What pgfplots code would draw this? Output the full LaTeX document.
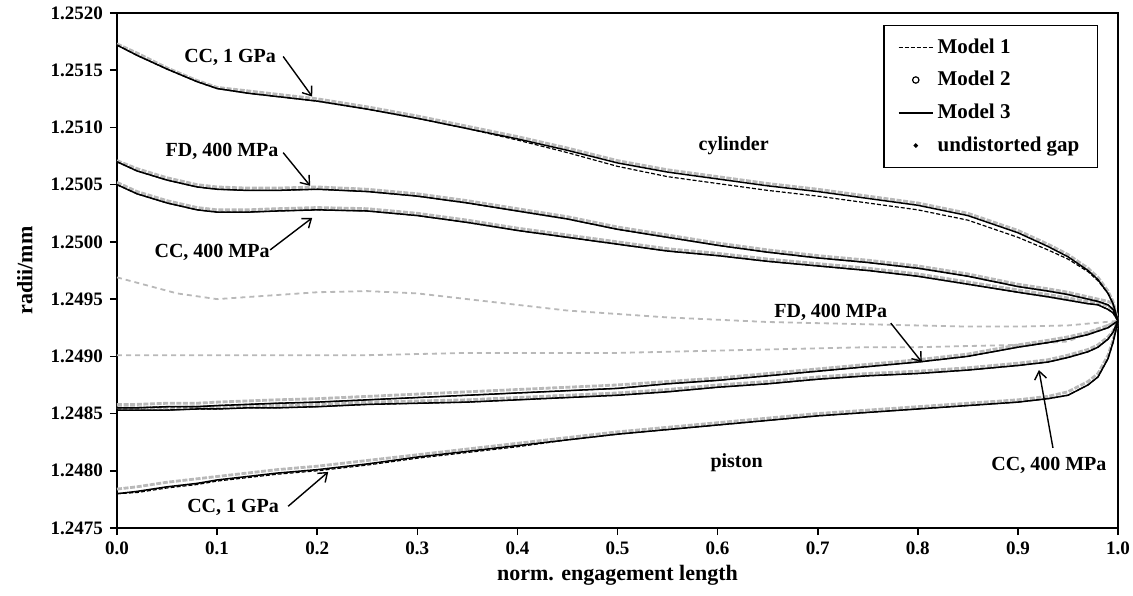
\documentclass[border=0pt]{standalone}
\usepackage{fontspec}
\setmainfont{Liberation Serif}
\usepackage{pgfplots}
\usepackage{pgfplotstable}
\pgfplotsset{compat=1.18}
\usetikzlibrary{arrows.meta,calc}

% curves: A = CC 1 GPa cyl, B = FD 400 MPa cyl, C = CC 400 MPa cyl,
%         D = FD 400 MPa piston, E = CC 400 MPa piston, F = CC 1 GPa piston
% Model 3 (solid)
\pgfplotstableread{
x     A       B       C       D       E       F
0.00  1.25172 1.25070 1.25050 1.24855 1.24853 1.24780
0.02  1.25163 1.25062 1.25042 1.24855 1.24853 1.24782
0.05  1.25151 1.25054 1.25034 1.24856 1.24853 1.24786
0.08  1.25140 1.25048 1.25028 1.24856 1.24854 1.24789
0.10  1.25134 1.25046 1.25026 1.24857 1.24854 1.24792
0.13  1.25130 1.25045 1.25026 1.24858 1.24855 1.24795
0.16  1.25127 1.25045 1.25027 1.24859 1.24855 1.24798
0.20  1.25123 1.25046 1.25028 1.24860 1.24856 1.24801
0.25  1.25116 1.25044 1.25027 1.24862 1.24858 1.24806
0.30  1.25108 1.25040 1.25023 1.24864 1.24859 1.24812
0.35  1.25099 1.25034 1.25017 1.24866 1.24860 1.24817
0.40  1.25090 1.25027 1.25010 1.24868 1.24862 1.24822
0.45  1.25080 1.25020 1.25004 1.24870 1.24864 1.24827
0.50  1.25069 1.25011 1.24998 1.24872 1.24866 1.24832
0.55  1.25061 1.25004 1.24992 1.24876 1.24869 1.24836
0.60  1.25055 1.24997 1.24988 1.24879 1.24873 1.24840
0.65  1.25049 1.24991 1.24983 1.24883 1.24876 1.24844
0.70  1.25044 1.24986 1.24979 1.24887 1.24880 1.24848
0.75  1.25038 1.24982 1.24975 1.24891 1.24883 1.24851
0.80  1.25032 1.24977 1.24970 1.24895 1.24885 1.24854
0.85  1.25023 1.24970 1.24963 1.24900 1.24888 1.24857
0.90  1.25008 1.24961 1.24956 1.24908 1.24892 1.24860
0.93  1.24996 1.24957 1.24952 1.24912 1.24895 1.24863
0.95  1.24987 1.24954 1.24949 1.24915 1.24899 1.24866
0.97  1.24975 1.24950 1.24946 1.24919 1.24904 1.24875
0.98  1.24967 1.24948 1.24945 1.24922 1.24908 1.24882
0.99  1.24955 1.24945 1.24941 1.24925 1.24915 1.24898
0.995 1.24946 1.24941 1.24938 1.24928 1.24921 1.24912
1.00  1.24931 1.24931 1.24931 1.24931 1.24931 1.24931
}\modelthree

% Model 1 (dashed)
\pgfplotstableread{
x     A       B       C       D       E       F
0.00  1.25172 1.25070 1.25050 1.24855 1.24853 1.24780
0.02  1.25163 1.25062 1.25042 1.24855 1.24853 1.24781
0.05  1.25151 1.25054 1.25034 1.24856 1.24853 1.24785
0.08  1.25140 1.25048 1.25028 1.24856 1.24854 1.24788
0.10  1.25134 1.25046 1.25026 1.24857 1.24854 1.24791
0.13  1.25130 1.25045 1.25026 1.24858 1.24855 1.24794
0.16  1.25127 1.25045 1.25027 1.24859 1.24855 1.24797
0.20  1.25123 1.25046 1.25028 1.24860 1.24856 1.24800
0.25  1.25116 1.25044 1.25027 1.24862 1.24858 1.24805
0.30  1.25108 1.25040 1.25023 1.24864 1.24859 1.24811
0.35  1.25099 1.25034 1.25017 1.24866 1.24860 1.24816
0.40  1.25089 1.25027 1.25010 1.24868 1.24862 1.24821
0.45  1.25078 1.25020 1.25004 1.24870 1.24864 1.24827
0.50  1.25066 1.25011 1.24998 1.24872 1.24866 1.24832
0.55  1.25057 1.25004 1.24992 1.24876 1.24869 1.24836
0.60  1.25051 1.24997 1.24988 1.24879 1.24873 1.24840
0.65  1.25045 1.24991 1.24983 1.24883 1.24876 1.24844
0.70  1.25040 1.24986 1.24979 1.24887 1.24880 1.24848
0.75  1.25034 1.24982 1.24975 1.24891 1.24883 1.24851
0.80  1.25028 1.24977 1.24970 1.24895 1.24885 1.24854
0.85  1.25019 1.24970 1.24963 1.24900 1.24888 1.24857
0.90  1.25004 1.24961 1.24956 1.24908 1.24892 1.24860
0.93  1.24993 1.24957 1.24952 1.24912 1.24895 1.24863
0.95  1.24985 1.24954 1.24949 1.24915 1.24899 1.24866
0.97  1.24974 1.24950 1.24946 1.24919 1.24904 1.24875
0.98  1.24966 1.24948 1.24945 1.24922 1.24908 1.24882
0.99  1.24955 1.24945 1.24941 1.24925 1.24915 1.24898
0.995 1.24946 1.24941 1.24938 1.24928 1.24921 1.24912
1.00  1.24931 1.24931 1.24931 1.24931 1.24931 1.24931
}\modelone

% Model 2 (grey markers)
\pgfplotstableread{
x     A       B       C       D       E       F
0.00  1.25173 1.25071 1.25052 1.24858 1.24855 1.24784
0.02  1.25165 1.25064 1.25044 1.24858 1.24855 1.24786
0.05  1.25152 1.25056 1.25036 1.24859 1.24855 1.24790
0.08  1.25141 1.25050 1.25030 1.24859 1.24856 1.24793
0.10  1.25135 1.25048 1.25028 1.24860 1.24856 1.24795
0.13  1.25132 1.25047 1.25028 1.24861 1.24857 1.24798
0.16  1.25129 1.25047 1.25029 1.24862 1.24857 1.24801
0.20  1.25125 1.25048 1.25030 1.24863 1.24858 1.24804
0.25  1.25118 1.25046 1.25029 1.24865 1.24860 1.24809
0.30  1.25110 1.25042 1.25025 1.24867 1.24861 1.24814
0.35  1.25101 1.25036 1.25019 1.24869 1.24862 1.24819
0.40  1.25092 1.25029 1.25012 1.24871 1.24864 1.24824
0.45  1.25082 1.25022 1.25006 1.24873 1.24866 1.24829
0.50  1.25071 1.25013 1.25000 1.24875 1.24868 1.24834
0.55  1.25063 1.25006 1.24994 1.24878 1.24871 1.24838
0.60  1.25057 1.24999 1.24990 1.24881 1.24875 1.24842
0.65  1.25051 1.24993 1.24985 1.24885 1.24878 1.24846
0.70  1.25046 1.24988 1.24981 1.24889 1.24882 1.24850
0.75  1.25040 1.24984 1.24977 1.24893 1.24885 1.24853
0.80  1.25034 1.24979 1.24972 1.24897 1.24887 1.24856
0.85  1.25025 1.24972 1.24965 1.24902 1.24890 1.24859
0.90  1.25010 1.24963 1.24958 1.24910 1.24894 1.24862
0.93  1.24998 1.24959 1.24954 1.24914 1.24897 1.24865
0.95  1.24989 1.24956 1.24951 1.24917 1.24901 1.24869
0.97  1.24977 1.24952 1.24948 1.24921 1.24906 1.24878
0.98  1.24969 1.24950 1.24947 1.24924 1.24910 1.24885
0.99  1.24957 1.24948 1.24944 1.24927 1.24917 1.24901
0.995 1.24948 1.24946 1.24941 1.24929 1.24922 1.24914
1.00  1.24931 1.24931 1.24931 1.24931 1.24931 1.24931
}\modeltwo

% undistorted gap: G = cylinder bore, H = piston
\pgfplotstableread{
x     G       H
0.00  1.24969 1.24901
0.03  1.24962 1.24901
0.06  1.24955 1.24901
0.10  1.24950 1.24901
0.15  1.24953 1.24901
0.20  1.24956 1.24901
0.25  1.24957 1.24901
0.30  1.24955 1.24902
0.35  1.24950 1.24903
0.40  1.24945 1.24903
0.45  1.24940 1.24903
0.50  1.24937 1.24903
0.55  1.24934 1.24904
0.60  1.24932 1.24905
0.65  1.24930 1.24906
0.70  1.24929 1.24907
0.75  1.24928 1.24908
0.80  1.24927 1.24908
0.85  1.24926 1.24909
0.90  1.24926 1.24910
0.95  1.24927 1.24913
1.00  1.24931 1.24931
}\undist

\tikzset{
  m1/.style={black, line width=0.6pt, dash pattern=on 2pt off 1pt},
  m2/.style={gray!55, line width=1.4pt, dash pattern=on 2.5pt off 0.8pt},
  m3/.style={black, line width=0.75pt},
  ug/.style={gray!55, line width=0.9pt, dash pattern=on 2.5pt off 2pt},
  lbl/.style={font=\fontsize{10}{12}\selectfont\bfseries},
  arr/.style={-{Straight Barb[length=4pt,width=6pt]}, line width=0.7pt},
}

\begin{document}
\begin{tikzpicture}
\begin{axis}[
    scale only axis,
    width=500.5pt, height=257.5pt,
    xmin=0, xmax=1,
    ymin=1.2475, ymax=1.2520,
    xtick={0,0.1,0.2,0.3,0.4,0.5,0.6,0.7,0.8,0.9,1.0},
    ytick={1.2475,1.2480,1.2485,1.2490,1.2495,1.2500,1.2505,1.2510,1.2515,1.2520},
    scaled x ticks=false, scaled y ticks=false,
    tick align=outside, tick pos=left,
    major tick length=3.5pt,
    axis line style={line width=0.8pt},
    every tick/.style={black, line width=0.8pt},
    /pgf/number format/assume math mode=true,
    xticklabel style={/pgf/number format/fixed, /pgf/number format/fixed zerofill, /pgf/number format/precision=1},
    yticklabel style={/pgf/number format/fixed, /pgf/number format/fixed zerofill, /pgf/number format/precision=4},
    ticklabel style={font=\fontsize{9.5}{11}\selectfont\bfseries},
    xlabel={norm. engagement length},
    ylabel={radii/mm},
    every axis x label/.style={at={(axis description cs:0.5,-0.0913)}, anchor=center,
        font=\fontsize{11}{13}\selectfont\bfseries},
    every axis y label/.style={at={(axis description cs:-0.092,0.5)}, rotate=90, anchor=center,
        font=\fontsize{11}{13}\selectfont\bfseries},
    legend style={at={(0.980,0.977)}, anchor=north east, draw=black, line width=0.6pt,
        font=\fontsize{10.5}{12}\selectfont\bfseries, row sep=3.6pt,
        inner xsep=7pt, inner ysep=4.5pt},
    legend cell align=left,
]
% undistorted gap
\addplot[ug, forget plot] table[x=x, y=G] {\undist};
\addplot[ug, forget plot] table[x=x, y=H] {\undist};
% Model 2
\foreach \c in {A,B,C,D,E,F}{
  \addplot[m2, forget plot] table[x=x, y=\c] {\modeltwo};
}
% Model 1
\foreach \c in {A,B,C,D,E,F}{
  \addplot[m1, forget plot] table[x=x, y=\c] {\modelone};
}
% Model 3
\foreach \c in {A,B,C,D,E,F}{
  \addplot[m3, forget plot] table[x=x, y=\c] {\modelthree};
}

\addlegendimage{m1}
\addlegendentry{Model 1}
\addlegendimage{only marks, mark=o, mark size=1.6pt, black, mark options={solid, line width=0.6pt}}
\addlegendentry{Model 2}
\addlegendimage{m3}
\addlegendentry{Model 3}
\addlegendimage{only marks, mark=*, mark size=0.8pt, black}
\addlegendentry{undistorted gap}

% annotations
\node[lbl] at (axis cs:0.113,1.25161) {CC, 1 GPa};
\draw[arr] (axis cs:0.166,1.25162) -- (axis cs:0.195,1.25127);
\node[lbl] at (axis cs:0.105,1.25079) {FD, 400 MPa};
\draw[arr] (axis cs:0.166,1.25078) -- (axis cs:0.193,1.25049);
\node[lbl] at (axis cs:0.095,1.24991) {CC, 400 MPa};
\draw[arr] (axis cs:0.153,1.24993) -- (axis cs:0.195,1.25021);
\node[lbl] at (axis cs:0.616,1.25084) {cylinder};
\node[lbl] at (axis cs:0.713,1.24938) {FD, 400 MPa};
\draw[arr] (axis cs:0.773,1.24929) -- (axis cs:0.804,1.24895);
\node[lbl] at (axis cs:0.931,1.24805) {CC, 400 MPa};
\draw[arr] (axis cs:0.935,1.24820) -- (axis cs:0.921,1.24888);
\node[lbl] at (axis cs:0.619,1.24807) {piston};
\node[lbl] at (axis cs:0.116,1.24768) {CC, 1 GPa};
\draw[arr] (axis cs:0.171,1.24769) -- (axis cs:0.211,1.24799);
\end{axis}
\pgfresetboundingbox
\path[use as bounding box] ($(current axis.south west)+(-58.5pt,-33.5pt)$) rectangle ($(current axis.north east)+(7.5pt,6.5pt)$);
\end{tikzpicture}
\end{document}
